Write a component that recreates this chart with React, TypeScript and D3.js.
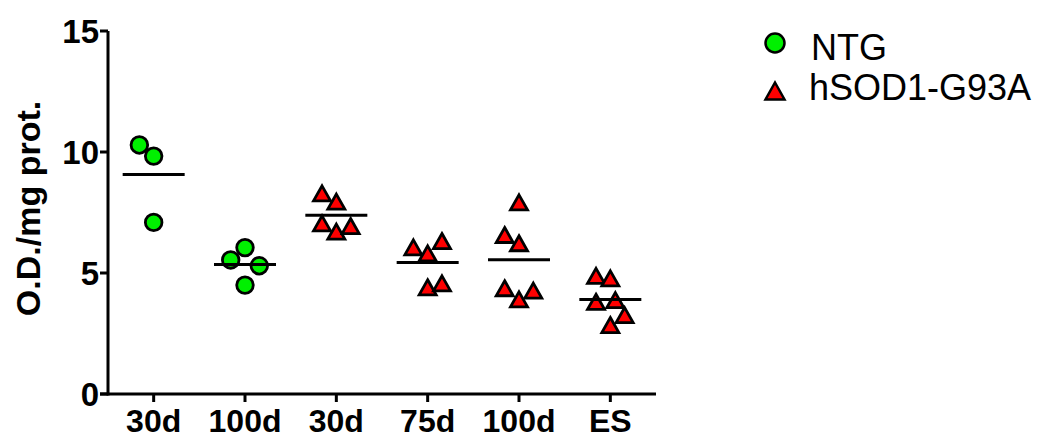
import React from "react";
import * as d3 from "d3";

const categories = ["30d", "100d", "30d", "75d", "100d", "ES"];
const groupSeries = ["NTG", "NTG", "hSOD1-G93A", "hSOD1-G93A", "hSOD1-G93A", "hSOD1-G93A"];
const values: number[][] = [
  [10.29, 9.83, 7.09],
  [5.54, 6.05, 5.3, 4.5],
  [8.29, 7.95, 7.05, 6.71, 6.94],
  [6.06, 6.32, 5.81, 4.41, 4.57],
  [7.92, 6.57, 6.23, 4.37, 4.27, 3.91],
  [4.88, 4.78, 3.81, 3.88, 3.26, 2.85],
];
// horizontal jitter slot of each point (in symbol widths)
const jitter: number[][] = [
  [-1, 0, 0],
  [-1, 0, 1, 0],
  [-1, 0, -1, 0, 1],
  [-1, 1, 0, 0, 1],
  [0, -1, 0, -1, 1, 0],
  [-1, 0, -1, 0.35, 1, 0],
];
const yTicks = [0, 5, 10, 15];
const seriesNames = ["NTG", "hSOD1-G93A"];
const seriesColors = ["#00f000", "#ff0000"];

const FONT = "'Liberation Sans', Arial, Helvetica, sans-serif";

function trianglePath(w: number, h: number) {
  return `M0,${-h / 2}L${w / 2},${h / 2}L${-w / 2},${h / 2}Z`;
}

export default function App() {
  const W = 1045;
  const H = 438;
  const x0 = 108;
  const x1 = 656;
  const y = d3.scaleLinear().domain([0, 15]).range([394, 31]);
  const x = d3.scaleBand().domain(categories.map((_, i) => String(i))).range([x0, x1]).padding(0);
  const color = d3.scaleOrdinal<string, string>().domain(seriesNames).range(seriesColors);
  const slot = 14.3;
  const meanHalf = 31;

  return (
    <svg width={W} height={H} style={{ position: "absolute", left: 0, top: 0, background: "#fff" }}>
      {/* axes */}
      <g stroke="#000" strokeWidth={3} fill="none">
        <line x1={x0} y1={y(15)} x2={x0} y2={y(0) + 1.5} />
        <line x1={x0 - 8} y1={y(0)} x2={x1} y2={y(0)} />
        {yTicks.map((t) => (
          <line key={t} x1={x0 - 8} y1={y(t)} x2={x0} y2={y(t)} />
        ))}
        {categories.map((_, i) => {
          const cx = (x(String(i)) as number) + x.bandwidth() / 2;
          return <line key={i} x1={cx} y1={y(0)} x2={cx} y2={y(0) + 8} />;
        })}
      </g>
      {yTicks.map((t) => (
        <text
          key={t}
          x={x0 - 9}
          y={y(t)}
          dy="0.36em"
          textAnchor="end"
          fontFamily={FONT}
          fontWeight="bold"
          fontSize={33}
        >
          {t}
        </text>
      ))}
      {categories.map((c, i) => {
        const cx = (x(String(i)) as number) + x.bandwidth() / 2;
        return (
          <text
            key={i}
            x={cx}
            y={432}
            textAnchor="middle"
            fontFamily={FONT}
            fontWeight="bold"
            fontSize={32}
          >
            {c}
          </text>
        );
      })}
      <text
        transform={`translate(40, ${(y(0) + y(15)) / 2 - 4}) rotate(-90)`}
        textAnchor="middle"
        fontFamily={FONT}
        fontWeight="bold"
        fontSize={34}
      >
        O.D./mg prot.
      </text>

      {/* points */}
      {values.map((vals, gi) => {
        const cx = (x(String(gi)) as number) + x.bandwidth() / 2;
        const s = groupSeries[gi];
        const fill = color(s);
        const mean = d3.mean(vals) as number;
        return (
          <g key={gi}>
            {vals.map((v, pi) => {
              const px = cx + jitter[gi][pi] * slot;
              const py = y(v);
              return s === "NTG" ? (
                <circle key={pi} cx={px} cy={py} r={8.3} fill={fill} stroke="#000" strokeWidth={2.8} />
              ) : (
                <path
                  key={pi}
                  d={trianglePath(17, 15)}
                  transform={`translate(${px},${py})`}
                  fill={fill}
                  stroke="#000"
                  strokeWidth={2.8}
                  strokeLinejoin="miter"
                />
              );
            })}
            <line x1={cx - meanHalf} x2={cx + meanHalf} y1={y(mean)} y2={y(mean)} stroke="#000" strokeWidth={3} />
          </g>
        );
      })}

      {/* legend */}
      <circle cx={775} cy={43} r={9.5} fill={color("NTG")} stroke="#000" strokeWidth={2.5} />
      <path d={trianglePath(19, 17)} transform="translate(775,91)" fill={color("hSOD1-G93A")} stroke="#000" strokeWidth={2.5} />
      <text x={811} y={60} fontFamily={FONT} fontSize={36}>
        NTG
      </text>
      <text x={809} y={100} fontFamily={FONT} fontSize={36}>
        hSOD1-G93A
      </text>
    </svg>
  );
}
